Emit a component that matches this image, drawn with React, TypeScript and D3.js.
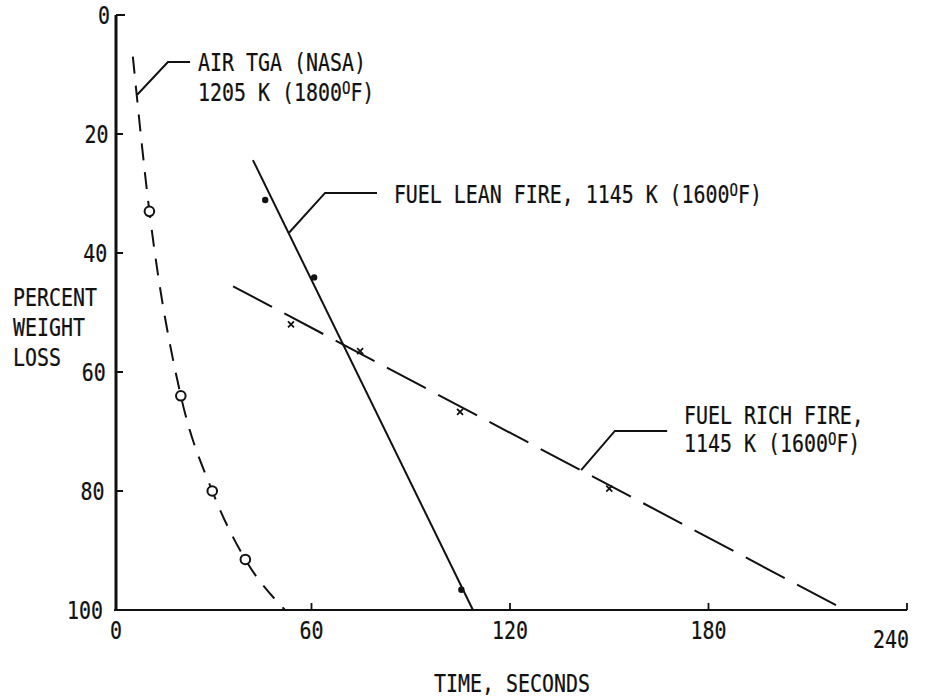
import React from "react";
import * as d3 from "d3";

const W = 930;
const H = 697;

const xTicks = [0, 60, 120, 180, 240];
const yTicks = [0, 20, 40, 60, 80, 100];

// AIR TGA (NASA) 1205 K — open circles and dashed fitted curve
const airT = [11, 20.5, 30, 40];
const airY = [33, 64, 80, 91.5];
const airCurveT = [6, 11, 20.5, 30, 40, 52];
const airCurveY = [7, 33, 64, 80, 91.5, 100];

// Fuel lean fire — dots and solid fitted line
const leanT = [46, 60.8, 105.3];
const leanY = [31.1, 44.1, 96.6];
const leanFitT = [42.3, 108.8];
const leanFitY = [24.4, 100];

// Fuel rich fire — x marks and long-dashed fitted line
const richT = [53.8, 74.7, 104.9, 150];
const richY = [52.0, 56.5, 66.7, 79.6];
const richFitT = [36.3, 221.3];
const richFitY = [45.6, 100];

// annotation leaders (data units): start on curve, elbow, end
const airLeaderT = [7.3, 16.6, 23.3];
const airLeaderY = [13.4, 7.9, 7.9];
const leanLeaderT = [53.2, 64.1, 79.8];
const leanLeaderY = [36.6, 29.9, 29.9];
const richLeaderT = [141.5, 151.7, 167.5];
const richLeaderY = [76.5, 69.9, 69.9];

const FONT = "'DejaVu Sans Mono', 'Liberation Mono', monospace";
const FS = 24;
const SX = 0.83;

function zip(t: number[], v: number[]) {
  return t.map((d, i) => [d, v[i]] as [number, number]);
}

function Label(props: {
  x: number;
  y: number;
  anchor?: string;
  children: React.ReactNode;
}) {
  return (
    <text
      transform={`translate(${props.x},${props.y}) scale(${SX},1)`}
      textAnchor={props.anchor || "start"}
      fontFamily={FONT}
      fontSize={FS}
      fill="#111"
      stroke="#111"
      strokeWidth={0.25}
    >
      {props.children}
    </text>
  );
}

function Deg(props: { pre: string }) {
  return (
    <>
      {props.pre}
      <tspan fontSize={17} dy={-7}>
        O
      </tspan>
      <tspan dy={7}>F)</tspan>
    </>
  );
}

export default function App() {
  const x = d3.scaleLinear().domain([0, 240]).range([113, 907]);
  const y = d3.scaleLinear().domain([0, 100]).range([15, 610]);

  const line = d3
    .line<[number, number]>()
    .x((d) => x(d[0]))
    .y((d) => y(d[1]));
  const curve = d3
    .line<[number, number]>()
    .x((d) => x(d[0]))
    .y((d) => y(d[1]))
    .curve(d3.curveMonotoneX);

  const axisX = x(0) + 3;
  const stroke = "#111";

  return (
    <svg
      width={W}
      height={H}
      viewBox={`0 0 ${W} ${H}`}
      style={{ position: "absolute", left: 0, top: 0, background: "#fff" }}
    >
      <rect x={0} y={0} width={W} height={H} fill="#fff" />

      {/* Y axis */}
      <line x1={axisX} y1={y(0)} x2={axisX} y2={y(100)} stroke={stroke} strokeWidth={3} />
      {yTicks.map((v) => (
        <g key={"yt" + v}>
          {v < 100 && (
            <line
              x1={axisX}
              x2={axisX + (v === 0 ? 9 : 7)}
              y1={y(v)}
              y2={y(v)}
              stroke={stroke}
              strokeWidth={2}
            />
          )}
          <Label x={axisX - 6 - (v / 100) * 7} y={y(v) + 9} anchor="end">
            {String(v)}
          </Label>
        </g>
      ))}

      {/* X axis */}
      <line x1={axisX - 2} y1={y(100)} x2={x(240)} y2={y(100)} stroke={stroke} strokeWidth={1.8} />
      {xTicks.map((v) => (
        <g key={"xt" + v}>
          {v > 0 && (
            <line x1={x(v)} x2={x(v)} y1={y(100)} y2={y(100) - 7} stroke={stroke} strokeWidth={1.8} />
          )}
          <Label
            x={v === 240 ? x(v) + 2 : v === 0 ? x(v) + 3 : x(v)}
            y={v === 240 ? y(100) + 38 : y(100) + 29}
            anchor={v === 240 ? "end" : "middle"}
          >
            {String(v)}
          </Label>
        </g>
      ))}

      {/* axis titles */}
      <Label x={(x(0) + x(240)) / 2 + 2} y={692} anchor="middle">
        TIME, SECONDS
      </Label>
      <Label x={13} y={306}>PERCENT</Label>
      <Label x={13} y={336}>WEIGHT</Label>
      <Label x={13} y={366}>LOSS</Label>

      {/* AIR TGA curve */}
      <path
        d={curve(zip(airCurveT, airCurveY)) || ""}
        fill="none"
        stroke={stroke}
        strokeWidth={2}
        strokeDasharray="17 12"
      />
      {zip(airT, airY).map((d, i) => (
        <circle
          key={"a" + i}
          cx={x(d[0])}
          cy={y(d[1])}
          r={4.8}
          fill="#fff"
          stroke={stroke}
          strokeWidth={2}
        />
      ))}

      {/* Fuel lean line */}
      <path d={line(zip(leanFitT, leanFitY)) || ""} fill="none" stroke={stroke} strokeWidth={2} />
      {zip(leanT, leanY).map((d, i) => (
        <circle key={"l" + i} cx={x(d[0])} cy={y(d[1])} r={3.2} fill={stroke} />
      ))}

      {/* Fuel rich line */}
      <path
        d={line(zip(richFitT, richFitY)) || ""}
        fill="none"
        stroke={stroke}
        strokeWidth={2}
        strokeDasharray="44 14"
      />
      {zip(richT, richY).map((d, i) => (
        <g key={"r" + i} transform={`translate(${x(d[0])},${y(d[1])})`}>
          <line x1={-3} y1={-3} x2={3} y2={3} stroke={stroke} strokeWidth={1.8} />
          <line x1={-3} y1={3} x2={3} y2={-3} stroke={stroke} strokeWidth={1.8} />
        </g>
      ))}

      {/* leaders */}
      {[
        zip(airLeaderT, airLeaderY),
        zip(leanLeaderT, leanLeaderY),
        zip(richLeaderT, richLeaderY),
      ].map((pts, i) => (
        <path key={"ld" + i} d={line(pts) || ""} fill="none" stroke={stroke} strokeWidth={2} />
      ))}

      {/* annotations */}
      <Label x={x(25.7)} y={y(7.9) + 9}>AIR TGA (NASA)</Label>
      <Label x={x(25.7)} y={y(7.9) + 39}>
        <Deg pre="1205 K (1800" />
      </Label>
      <Label x={x(84.9)} y={y(29.9) + 10}>
        <Deg pre="FUEL LEAN FIRE, 1145 K (1600" />
      </Label>
      <Label x={x(172.6)} y={y(69.9) - 7}>FUEL RICH FIRE,</Label>
      <Label x={x(172.6)} y={y(69.9) + 21}>
        <Deg pre="1145 K (1600" />
      </Label>
    </svg>
  );
}
